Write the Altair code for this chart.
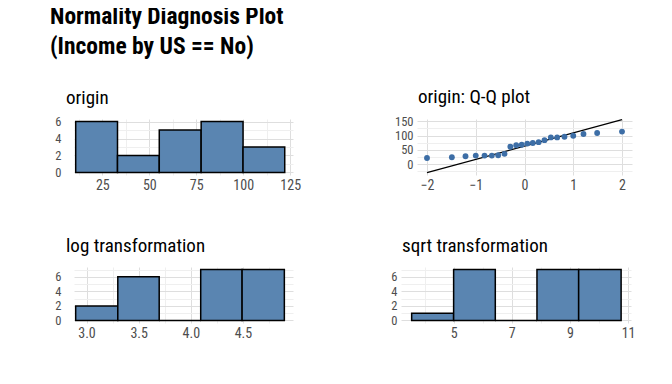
import altair as alt
import pandas as pd

# ---- data ----
orig_lo = [10.8, 33.06, 55.3, 77.6, 99.9]
orig_hi = [33.06, 55.3, 77.6, 99.9, 122.1]
orig_cnt = [6, 2, 5, 6, 3]

log_lo = [2.896, 3.300, 3.697, 4.095, 4.492]
log_hi = [3.300, 3.697, 4.095, 4.492, 4.897]
log_cnt = [2, 6, 0, 7, 7]

sqrt_lo = [3.557, 5.0, 6.433, 7.866, 9.30]
sqrt_hi = [5.0, 6.433, 7.866, 9.30, 10.76]
sqrt_cnt = [1, 7, 0, 7, 7]

qq_theory = [-2.00, -1.49, -1.21, -1.00, -0.82, -0.67, -0.54, -0.41, -0.29, -0.17, -0.057,
             0.057, 0.17, 0.29, 0.41, 0.54, 0.67, 0.82, 1.00, 1.21, 1.49, 2.00]
qq_sample = [21.6, 24, 27.6, 30, 30, 30, 31, 36, 61, 66, 68, 72, 74, 77, 84, 93.5, 93.5,
             96, 99.5, 105.5, 109, 114]
qq_line_x = [-2, 2]
qq_line_y = [-30, 156]

FONT = "Roboto Condensed, Liberation Sans Narrow, Roboto, sans-serif"
FILL = "#5a85b1"
POINT = "#3d6ea6"
MAJOR = "#dedede"
MINOR = "#efefef"


def grid_color(test):
    return {"condition": {"test": test, "value": MINOR}, "value": MAJOR}


def axis_x(values, major_test, fmt=None, pad=3):
    kw = dict(title=None, values=values, ticks=False, domain=False, labelFontSize=14,
              labelColor="#4d4d4d", labelPadding=pad, labelOverlap=False,
              labelExpr=f"({major_test}) ? datum.label : ''",
              gridColor=grid_color(f"!({major_test})"), gridWidth=1, labelFlush=False)
    if fmt:
        kw["format"] = fmt
    return alt.Axis(**kw)


def axis_y(values, major_test, pad):
    return alt.Axis(title=None, values=values, ticks=False, domain=False, labelFontSize=12.5,
                    labelColor="#4d4d4d", labelPadding=pad, labelOverlap=False,
                    labelExpr=f"({major_test}) ? datum.label : ''",
                    gridColor=grid_color(f"!({major_test})"), gridWidth=1)


def sub_title(text, dx):
    return alt.TitleParams(text=text, anchor="start", frame="group", fontSize=19,
                           fontWeight="normal", color="#000000", dx=dx, offset=8, font=FONT)


def hist(lo, hi, cnt, title, xdom, xvals, xtest, ydom, yvals, w, ypad, tdx, fmt=None):
    df = pd.DataFrame({"lo": lo, "hi": hi, "count": cnt})
    return alt.Chart(df).mark_rect(fill=FILL, stroke="black", strokeWidth=1.5).encode(
        x=alt.X("lo:Q", scale=alt.Scale(domain=xdom, nice=False, zero=False),
                axis=axis_x(xvals, xtest, fmt)),
        x2="hi:Q",
        y=alt.Y("count:Q", scale=alt.Scale(domain=ydom, nice=False),
                axis=axis_y(yvals, "datum.value % 2 == 0", ypad)),
        y2=alt.datum(0),
    ).properties(width=w, height=56, title=sub_title(title, tdx))


orig = hist(orig_lo, orig_hi, orig_cnt, "origin", [9.9, 126.5],
            [12.5 * i for i in range(1, 11)], "datum.value % 25 == 0",
            [-0.3, 6.3], list(range(0, 7)), 219, 13, -8)
logp = hist(log_lo, log_hi, log_cnt, "log transformation", [2.88, 4.98],
            [3.0 + 0.25 * i for i in range(0, 8)], "(datum.value * 2) % 1 == 0",
            [-0.35, 7.35], list(range(0, 8)), 219, 13, -8, fmt=".1f")
sqrtp = hist(sqrt_lo, sqrt_hi, sqrt_cnt, "sqrt transformation", [3.19, 11.1],
             list(range(4, 12)), "datum.value % 2 == 1",
             [-0.35, 7.35], list(range(0, 8)), 230, 4, 1)

qq_df = pd.DataFrame({"theory": qq_theory, "sample": qq_sample})
line_df = pd.DataFrame({"theory": qq_line_x, "sample": qq_line_y})
xs = alt.Scale(domain=[-2.205, 2.205], nice=False, zero=False)
ys = alt.Scale(domain=[-38, 158], nice=False, zero=False)
qx = axis_x([-2 + 0.5 * i for i in range(0, 9)], "datum.value % 1 == 0", fmt="d")
qy = axis_y([-25 + 25 * i for i in range(0, 8)], "datum.value % 50 == 0", 4)
qq_line = alt.Chart(line_df).mark_line(color="black", strokeWidth=1.3).encode(
    x=alt.X("theory:Q", scale=xs, axis=qx),
    y=alt.Y("sample:Q", scale=ys, axis=qy),
)
qq_pts = alt.Chart(qq_df).mark_circle(size=34, color=POINT, opacity=1).encode(
    x=alt.X("theory:Q", scale=xs, axis=qx),
    y=alt.Y("sample:Q", scale=ys, axis=qy),
)
qq = alt.layer(qq_line, qq_pts).properties(width=215, height=56,
                                            title=sub_title("origin: Q-Q plot", 1))

row1 = alt.hconcat(orig, qq, spacing=124, bounds="flush")
row2 = alt.hconcat(logp, sqrtp, spacing=108, bounds="flush")

chart = alt.vconcat(row1, row2, spacing=148, bounds="flush").properties(
    title=alt.TitleParams(text=["Normality Diagnosis Plot", "(Income by US == No)"],
                          anchor="start", frame="group", fontSize=23.5, fontWeight="bold",
                          lineHeight=30, dx=-24, offset=30, color="#000000", font=FONT),
    padding={"left": 42, "top": -4, "right": 5, "bottom": 5},
).configure(font=FONT).configure_view(stroke=None).configure_axis(
    labelFont=FONT
)

chart.save("out.html", embed_options={"renderer": "svg", "actions": False})
